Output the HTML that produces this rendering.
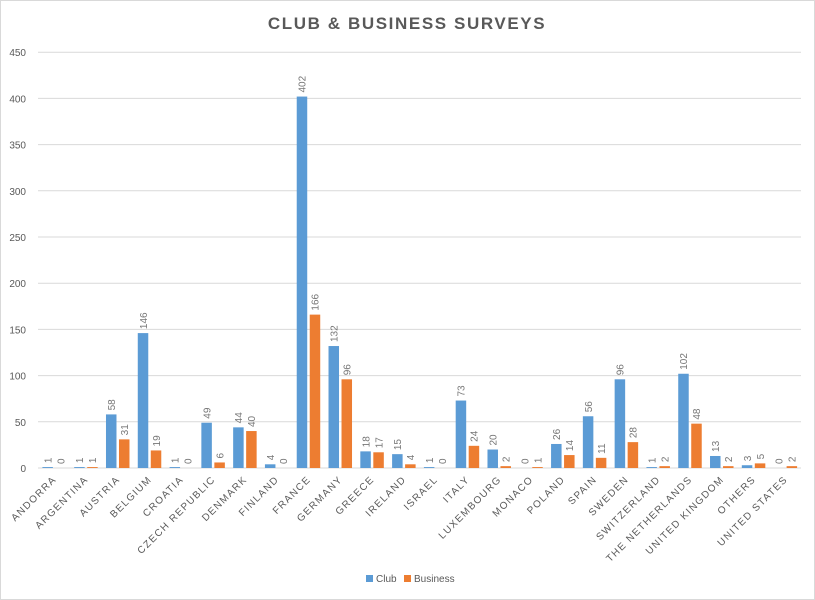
<!DOCTYPE html>
<html><head><meta charset="utf-8"><style>
body{margin:0;background:#fff}
svg{display:block}
text{font-family:"Liberation Sans",sans-serif}
</style></head><body>
<svg id="c" width="815" height="600" xmlns="http://www.w3.org/2000/svg">
<rect x="0.5" y="0.5" width="814" height="599" fill="#fff" stroke="#d9d9d9"/>
<text x="407" y="29" text-anchor="middle" font-size="17" font-weight="bold" fill="#595959" letter-spacing="1.6">CLUB &amp; BUSINESS SURVEYS</text>
<g id="g"></g>
<rect x="366" y="575" width="7" height="7" fill="#5b9bd5"/>
<text x="376" y="582" font-size="10" fill="#595959">Club</text>
<rect x="404" y="575" width="7" height="7" fill="#ed7d31"/>
<text x="414" y="582" font-size="10" fill="#595959">Business</text>
</svg>
<script>
var d=[["ANDORRA",1,0],["ARGENTINA",1,1],["AUSTRIA",58,31],["BELGIUM",146,19],["CROATIA",1,0],["CZECH REPUBLIC",49,6],["DENMARK",44,40],["FINLAND",4,0],["FRANCE",402,166],["GERMANY",132,96],["GREECE",18,17],["IRELAND",15,4],["ISRAEL",1,0],["ITALY",73,24],["LUXEMBOURG",20,2],["MONACO",0,1],["POLAND",26,14],["SPAIN",56,11],["SWEDEN",96,28],["SWITZERLAND",1,2],["THE NETHERLANDS",102,48],["UNITED KINGDOM",13,2],["OTHERS",3,5],["UNITED STATES",0,2]];
var s="",L=38,R=801,B=468,k=46.2/50,w=(R-L)/24;
for(var v=0;v<=450;v+=50){var y=B-v*k;s+='<line x1="'+L+'" x2="'+R+'" y1="'+y+'" y2="'+y+'" stroke="#d9d9d9" stroke-width="1"/>';
s+='<text x="26" y="'+(y+4)+'" text-anchor="end" font-size="10" fill="#595959">'+v+'</text>';}
d.forEach(function(r,i){var c=L+w*(i+0.5);
[[r[1],c-11.5,"#5b9bd5"],[r[2],c+1.5,"#ed7d31"]].forEach(function(b){var h=b[0]*k;
if(h>0)s+='<rect x="'+b[1]+'" y="'+(B-h)+'" width="10.5" height="'+h+'" fill="'+b[2]+'"/>';
var tx=b[1]+9,ty=B-h-4;s+='<text transform="translate('+tx+','+ty+') rotate(-90)" font-size="10" fill="#767676">'+b[0]+'</text>';});
s+='<text transform="translate('+(c+3)+',480) rotate(-45)" text-anchor="end" font-size="10" fill="#595959" letter-spacing="1.3">'+r[0]+'</text>';});
document.getElementById("g").innerHTML=s;
</script>
</body></html>
